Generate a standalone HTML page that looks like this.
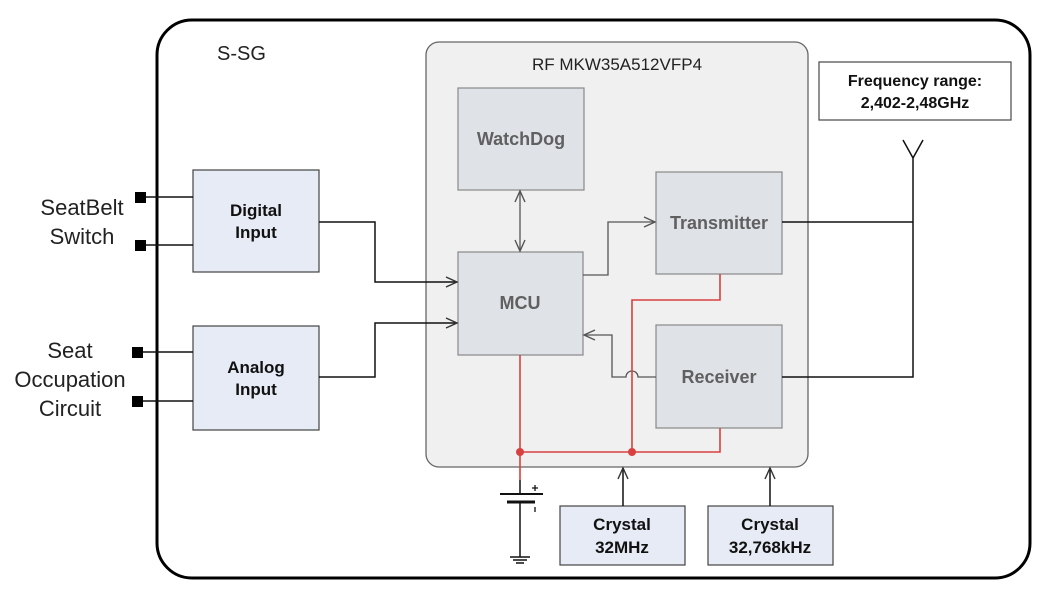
<!DOCTYPE html>
<html><head><meta charset="utf-8"><style>
html,body{margin:0;padding:0;background:#fff;}
svg{display:block;}
text{font-family:"Liberation Sans",Arial,sans-serif;}
</style></head><body>
<svg width="1045" height="591" viewBox="0 0 1045 591" xmlns="http://www.w3.org/2000/svg">
<defs>
<marker id="a" markerWidth="14" markerHeight="12" refX="12" refY="6" orient="auto" markerUnits="userSpaceOnUse">
<path d="M1,1 L12,6 L1,11" fill="none" stroke="#333" stroke-width="1.4"/>
</marker>
<marker id="as" markerWidth="14" markerHeight="12" refX="12" refY="6" orient="auto-start-reverse" markerUnits="userSpaceOnUse">
<path d="M1,1 L12,6 L1,11" fill="none" stroke="#555" stroke-width="1.4"/>
</marker>
</defs>
<rect x="157" y="20" width="873" height="558" rx="35" fill="#fff" stroke="#000" stroke-width="3"/>
<text x="217" y="60" font-size="20" fill="#222">S-SG</text>

<rect x="426" y="42" width="382" height="425" rx="13" fill="#f0f0f0" stroke="#666" stroke-width="1.3"/>
<text x="617" y="70" font-size="17" fill="#222" text-anchor="middle">RF MKW35A512VFP4</text>

<g fill="#dfe2e7" stroke="#888" stroke-width="1.2">
<rect x="458" y="88" width="126" height="102"/>
<rect x="656" y="172" width="126" height="102"/>
<rect x="458" y="252" width="125" height="103"/>
<rect x="656" y="325" width="126" height="103"/>
</g>
<g font-size="18" font-weight="bold" fill="#606060" text-anchor="middle">
<text x="521" y="145">WatchDog</text>
<text x="719" y="229">Transmitter</text>
<text x="520" y="309">MCU</text>
<text x="719" y="383">Receiver</text>
</g>

<g fill="#e6ebf5" stroke="#444" stroke-width="1.2">
<rect x="193" y="170" width="126" height="102"/>
<rect x="193" y="326" width="126" height="104"/>
<rect x="560" y="506" width="125" height="59"/>
<rect x="708" y="506" width="125" height="59"/>
</g>
<rect x="819" y="62" width="192" height="58" fill="#fff" stroke="#555" stroke-width="1.3"/>
<g font-size="17" font-weight="bold" fill="#111" text-anchor="middle">
<text x="256" y="216">Digital</text><text x="256" y="238">Input</text>
<text x="256" y="373">Analog</text><text x="256" y="395">Input</text>
<text x="622" y="530">Crystal</text><text x="622" y="553">32MHz</text>
<text x="770" y="530">Crystal</text><text x="770" y="553">32,768kHz</text>
<text x="915" y="86" font-size="16">Frequency range:</text><text x="915" y="108" font-size="16">2,402-2,48GHz</text>
</g>

<g font-size="22" fill="#222" text-anchor="middle">
<text x="82" y="215">SeatBelt</text><text x="82" y="244">Switch</text>
<text x="70" y="358">Seat</text><text x="70" y="387">Occupation</text><text x="70" y="416">Circuit</text>
</g>
<g fill="#000">
<rect x="135" y="192" width="11" height="11"/><rect x="135" y="240" width="11" height="11"/>
<rect x="132" y="347" width="11" height="11"/><rect x="132" y="396" width="11" height="11"/>
</g>
<g fill="none" stroke="#111" stroke-width="1.5">
<path d="M146,197 H193 M146,245 H193 M143,352 H193 M143,401 H193"/>
<path d="M319,222 H375 V282 H457" marker-end="url(#a)"/>
<path d="M319,377 H375 V323 H457" marker-end="url(#a)"/>
<path d="M782,222 H913 M782,377 H913 V158 M913,158 L903,140 M913,158 L923,140"/>
<path d="M623,506 V468" marker-end="url(#a)"/>
<path d="M770,506 V468" marker-end="url(#a)"/>
</g>
<g fill="none" stroke="#555" stroke-width="1.3">
<path d="M520,191 V251" marker-start="url(#as)" marker-end="url(#as)"/>
<path d="M583,275 H608 V222 H655" marker-end="url(#as)"/>
<path d="M656,377 H638 A6,6 0 0 0 626,377 H612 V335 H584" marker-end="url(#as)"/>
</g>
<g fill="none" stroke="#d94040" stroke-width="1.6">
<path d="M520,355 V480"/>
<path d="M720,274 V300 H632 V452"/>
<path d="M520,452 H720 V428"/>
</g>
<circle cx="520" cy="452" r="4" fill="#d94040"/>
<circle cx="632" cy="452" r="4" fill="#d94040"/>
<g stroke="#111" fill="none">
<path d="M520,480 V494 M520,502 V557" stroke-width="1.5"/>
<path d="M500,494 H543" stroke-width="2"/>
<path d="M507,502 H535" stroke-width="3"/>
<path d="M510,557 H530 M513,560 H527 M516,563 H524" stroke-width="1.5"/>
<path d="M532,488 H538 M535,485 V491 M535,507 V512" stroke-width="1.3"/>
</g>
</svg>
</body></html>
